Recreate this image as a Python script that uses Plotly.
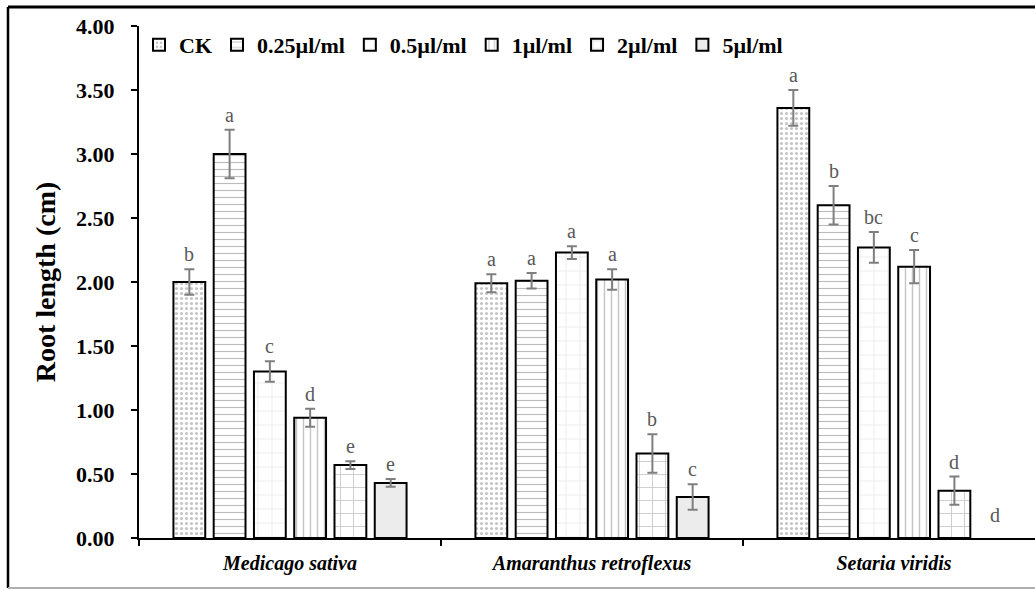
import plotly.graph_objects as go

# Species (x categories) and treatment concentrations (series)
species = ["Medicago sativa", "Amaranthus retroflexus", "Setaria viridis"]
treatments = ["CK", "0.25µl/ml", "0.5µl/ml", "1µl/ml", "2µl/ml", "5µl/ml"]

# Mean root length (cm) per treatment, ordered as in `species`
ck = [2.00, 1.99, 3.36]
c025 = [3.00, 2.01, 2.60]
c05 = [1.30, 2.23, 2.27]
c1 = [0.94, 2.02, 2.12]
c2 = [0.57, 0.66, 0.37]
c5 = [0.43, 0.32, 0.00]

# Standard errors
ck_err = [0.10, 0.07, 0.14]
c025_err = [0.19, 0.06, 0.15]
c05_err = [0.08, 0.05, 0.12]
c1_err = [0.07, 0.08, 0.13]
c2_err = [0.03, 0.15, 0.11]
c5_err = [0.03, 0.10, 0.00]

# Significance letters
ck_sig = ["b", "a", "a"]
c025_sig = ["a", "a", "b"]
c05_sig = ["c", "a", "bc"]
c1_sig = ["d", "a", "c"]
c2_sig = ["e", "b", "d"]
c5_sig = ["e", "c", "d"]

values = [ck, c025, c05, c1, c2, c5]
errors = [ck_err, c025_err, c05_err, c1_err, c2_err, c5_err]
letters = [ck_sig, c025_sig, c05_sig, c1_sig, c2_sig, c5_sig]

# Fill styles per treatment (hatch-like patterns)
patterns = [
    dict(shape=".", fgcolor="#8a8a8a", bgcolor="white", size=5, solidity=0.3),
    dict(shape="-", fgcolor="#7a7a7a", bgcolor="white", size=7, solidity=0.16),
    dict(shape="+", fgcolor="#b8b8b8", bgcolor="white", size=14, solidity=0.07),
    dict(shape="|", fgcolor="#8a8a8a", bgcolor="white", size=7, solidity=0.2),
    dict(shape="+", fgcolor="#8a8a8a", bgcolor="white", size=13, solidity=0.12),
    dict(shape="", fgcolor="#ececec", bgcolor="#ececec"),
]
fills = ["white", "white", "white", "white", "white", "#ececec"]

SERIF = "Liberation Serif, Times New Roman, serif"

fig = go.Figure()
for name, v, e, pat, fc in zip(treatments, values, errors, patterns, fills):
    # empty bars get no outline and no error bar ("NaN" is skipped by plotly.js)
    lw = [2 if val > 0 else 0 for val in v]
    e_shown = [err if val > 0 else "NaN" for val, err in zip(v, e)]
    fig.add_trace(go.Bar(
        name=name, x=species, y=v,
        marker=dict(color=fc, pattern=pat, line=dict(color="black", width=lw)),
        error_y=dict(type="data", array=e_shown, color="#7f7f7f", thickness=2, width=5),
    ))

# Plot-area geometry in pixels (used for the letter offsets and frame)
W, H = 1035, 590
ML, MR, MT, MB = 139, 0, 26, 52
cat_px = 302.0
pitch = cat_px * 0.8 / 6

annotations = []
for i, (v, e, lab) in enumerate(zip(values, errors, letters)):
    for j, sp in enumerate(species):
        annotations.append(dict(
            x=sp, y=v[j] + e[j], xref="x", yref="y",
            text=lab[j], showarrow=False, yanchor="bottom",
            yshift=2 if v[j] > 0 else 10,
            xshift=(i - 2.5) * pitch,
            font=dict(family=SERIF, size=20, color="#595959"),
        ))

pw = W - ML - MR
ph = H - MT - MB
def px_x(X):
    return (X - ML) / pw
def px_y(Y):
    return (H - MB - Y) / ph

shapes = [
    dict(type="line", xref="paper", yref="paper", x0=px_x(8), x1=px_x(1040),
         y0=px_y(7), y1=px_y(7), line=dict(color="black", width=3)),
    dict(type="line", xref="paper", yref="paper", x0=px_x(8), x1=px_x(8),
         y0=px_y(7), y1=px_y(588), line=dict(color="black", width=2.5)),
    dict(type="line", xref="paper", yref="paper", x0=px_x(8), x1=px_x(1040),
         y0=px_y(588), y1=px_y(588), line=dict(color="#b0b0b0", width=2)),
]

visible_cats = pw / cat_px
fig.update_layout(
    width=W, height=H,
    margin=dict(l=ML, r=MR, t=MT, b=MB),
    paper_bgcolor="white", plot_bgcolor="white",
    barmode="group", bargap=0.2, bargroupgap=0.21,
    font=dict(family=SERIF, color="black"),
    xaxis=dict(
        range=[-0.5, -0.5 + visible_cats],
        showline=True, linecolor="black", linewidth=2,
        ticks="outside", tickson="boundaries", ticklen=6, tickcolor="black", tickwidth=1.5,
        tickfont=dict(family=SERIF, size=20, style="italic", weight="bold", color="black"),
        ticklabelstandoff=6,
        showgrid=False, zeroline=False,
    ),
    yaxis=dict(
        range=[0, 4], dtick=0.5, tickformat=".2f",
        showline=True, linecolor="black", linewidth=2,
        ticks="outside", ticklen=6, tickcolor="black", tickwidth=1.5,
        tickfont=dict(family=SERIF, size=22, weight="bold", color="black"),
        ticklabelstandoff=12,
        showgrid=False, zeroline=False,
        title=dict(text="Root length (cm)", standoff=12,
                   font=dict(family=SERIF, size=28, weight="bold", color="black")),
    ),
    legend=dict(
        orientation="h", x=px_x(139), y=px_y(45), xanchor="left", yanchor="middle",
        font=dict(family=SERIF, size=22, weight="bold", color="black"),
        bgcolor="rgba(0,0,0,0)", itemwidth=30, tracegroupgap=0,
    ),
    annotations=annotations,
    shapes=shapes,
)

fig.write_html("out.html")
